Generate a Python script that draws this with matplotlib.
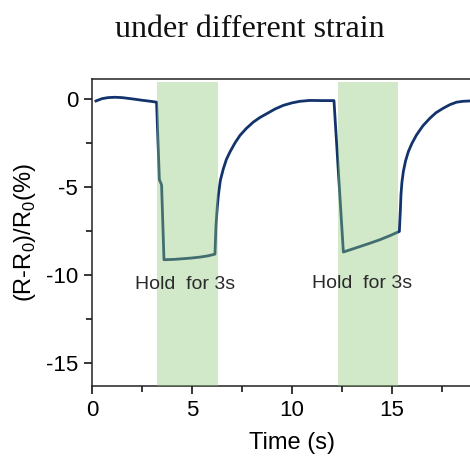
import matplotlib
matplotlib.use('Agg')
import matplotlib.pyplot as plt
from matplotlib.ticker import MultipleLocator

plt.rcParams['axes.unicode_minus'] = False
plt.rcParams['mathtext.fontset'] = 'custom'
plt.rcParams['mathtext.rm'] = 'Liberation Sans'

# relative resistance change during two press-and-hold cycles
time_s = [0.2, 0.5, 0.8, 1.15, 1.5, 2.0, 2.5, 3.0, 3.23,
          3.37, 3.48, 3.6, 4.1, 4.57, 5.0, 5.4, 5.8, 6.15,
          6.2, 6.26, 6.32, 6.42, 6.57, 6.72, 6.9, 7.15, 7.4, 7.72, 8.07,
          8.4, 8.73, 9.15, 9.57, 10.0, 10.4, 10.9, 11.5, 12.1,
          12.57, 13.0, 13.4, 13.9, 14.4, 14.9, 15.37,
          15.42, 15.45, 15.5, 15.57, 15.68, 15.82, 16.0, 16.23, 16.55, 16.9,
          17.2, 17.57, 17.9, 18.23, 18.55, 18.9, 19.5]
dr_pct = [-0.09, 0.04, 0.10, 0.12, 0.10, 0.03, -0.05, -0.12, -0.16,
          -4.57, -4.86, -9.12, -9.10, -9.06, -9.02, -8.97, -8.90, -8.80,
          -7.2, -6.2, -5.45, -4.6, -3.94, -3.42, -2.99, -2.48, -2.05, -1.65, -1.29,
          -1.03, -0.82, -0.55, -0.34, -0.20, -0.11, -0.06, -0.07, -0.07,
          -8.68, -8.52, -8.37, -8.18, -7.98, -7.75, -7.51,
          -6.3, -5.43, -4.7, -4.10, -3.5, -2.97, -2.5, -2.02, -1.5, -1.07,
          -0.76, -0.50, -0.30, -0.16, -0.11, -0.09, -0.07]

hold_start = [3.27, 12.32]
hold_end = [6.32, 15.32]
hold_label = ['Hold  for 3s', 'Hold  for 3s']
label_x = [4.65, 13.5]
label_y = [-10.55, -10.45]

ylo, yhi = -16.3, 1.16

fig = plt.figure(figsize=(4.7, 4.61), dpi=100)
ax = fig.add_axes([0.1957, 0.1627, 0.851, 0.666])

ax.plot(time_s, dr_pct, color='#12336b', lw=2.0, zorder=2)
# translucent green bands over the hold periods
for s, e in zip(hold_start, hold_end):
    ax.axvspan(s, e, ymin=0, ymax=(1.0 - ylo) / (yhi - ylo),
               color=(0.55, 0.78, 0.47), alpha=0.4, lw=0, zorder=3)
for t, x, y in zip(hold_label, label_x, label_y):
    ax.text(x, y, t, ha='center', va='center', fontsize=14,
            family='Liberation Sans', color='#2a2a2a', zorder=4)

ax.set_xlim(0, 20)
ax.set_ylim(ylo, yhi)
ax.set_xticks([0, 5, 10, 15])
ax.xaxis.set_minor_locator(MultipleLocator(2.5))
ax.yaxis.set_major_locator(MultipleLocator(5))
ax.yaxis.set_minor_locator(MultipleLocator(2.5))
ax.tick_params(which='major', direction='out', length=6, width=1.1, labelsize=16, pad=4)
ax.tick_params(which='minor', direction='out', length=4, width=1.1)
for lab in ax.get_xticklabels() + ax.get_yticklabels():
    lab.set_family('Liberation Sans')
for sp in ax.spines.values():
    sp.set_linewidth(1.1)
    sp.set_color('#222222')

ax.set_xlabel('Time (s)', fontsize=17, family='Liberation Sans', labelpad=8)
ax.set_ylabel('(R-R$_0$)/R$_0$(%)', fontsize=17, family='Liberation Sans', labelpad=6)

fig.text(0.532, 0.937, 'under different strain', ha='center', va='center',
         fontsize=23, family='Liberation Serif', color='#111111')

fig.savefig('out.png', dpi=100)
